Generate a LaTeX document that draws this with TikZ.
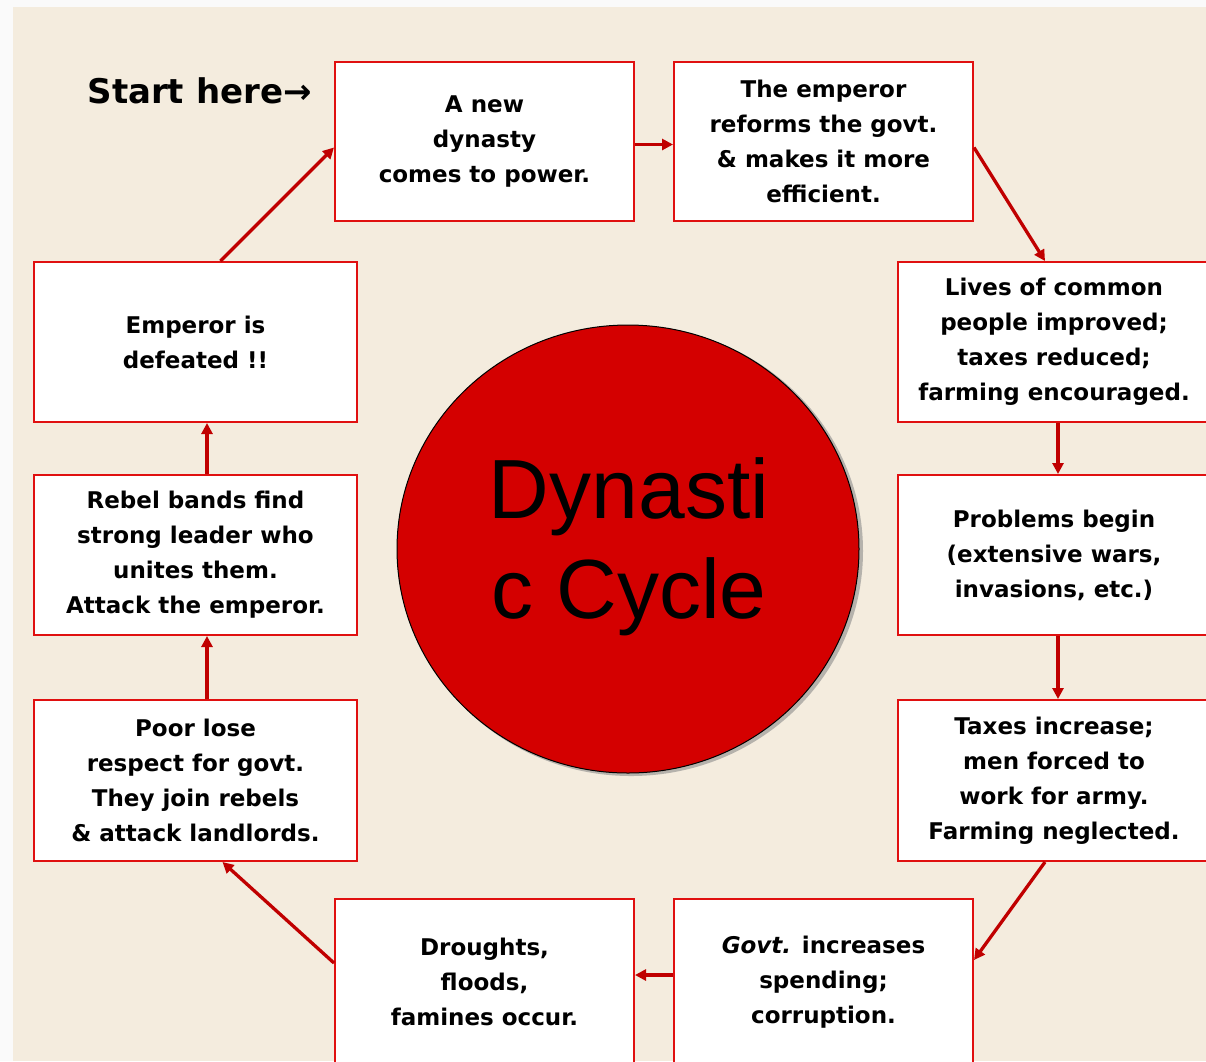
\documentclass[tikz,border=0pt]{standalone}
\usepackage{fontspec}
\setmainfont{DejaVu Sans}
\newfontfamily\arialf{Liberation Sans}
\usetikzlibrary{arrows.meta,shapes.geometric}
\definecolor{bg}{HTML}{F4ECDE}
\definecolor{boxred}{HTML}{E01010}
\definecolor{arrred}{HTML}{C00000}
\definecolor{disc}{HTML}{D40000}
\tikzset{
  stage/.style={draw=boxred, line width=2pt, fill=white, rectangle, align=center,
    inner sep=0pt, font=\fontsize{23}{35}\selectfont\bfseries},
  flow/.style={draw=arrred, line width=3.3pt, -{Triangle[length=11pt,width=11pt]}},
}
\begin{document}
\begin{tikzpicture}[x=1pt,y=-1pt]
\useasboundingbox (0,0) rectangle (1206,1061);
\fill[white!96!gray] (0,0) rectangle (1206,1061);
\fill[bg] (13,7) rectangle (1206,1061);

% centre disc
\fill[black!45, opacity=0.6] (631,551) ellipse [x radius=232, y radius=225];
\node[ellipse, draw=black, line width=1pt, fill=disc, minimum width=462pt, minimum height=448pt, inner sep=0pt] (core) at (628,549) {};
\node[align=center, font=\arialf\fontsize{84}{100}\selectfont, text=black] (title) at (629,547) {Dynasti\\c Cycle};

\node[font=\fontsize{34}{40}\selectfont\bfseries, anchor=west] (start) at (84,91) {Start here→};

\node[stage, minimum width=299pt, minimum height=159pt] (new) at (484.5,141.5) {A new\\dynasty\\comes to power.};
\node[stage, minimum width=299pt, minimum height=159pt] (ref) at (823.5,141.5) {The emperor\\reforms the govt.\\\& makes it more\\efficient.};
\node[stage, minimum width=312pt, minimum height=160pt] (lives) at (1054,342) {Lives of common\\people improved;\\taxes reduced;\\farming encouraged.};
\node[stage, minimum width=312pt, minimum height=160pt] (prob) at (1054,555) {Problems begin\\(extensive wars,\\invasions, etc.)};
\node[stage, minimum width=312pt, minimum height=161pt] (tax) at (1054,780.5) {Taxes increase;\\men forced to\\work for army.\\Farming neglected.};
\node[stage, minimum width=299pt, minimum height=166pt] (govt) at (823.5,982) {\textit{Govt.} increases\\spending;\\corruption.};
\node[stage, minimum width=299pt, minimum height=166pt] (drought) at (484.5,982) {Droughts,\\floods,\\famines occur.};
\node[stage, minimum width=323pt, minimum height=161pt] (poor) at (195.5,780.5) {Poor lose\\respect for govt.\\They join rebels\\\& attack landlords.};
\node[stage, minimum width=323pt, minimum height=160pt] (rebel) at (195.5,555) {Rebel bands find\\strong leader who\\unites them.\\Attack the emperor.};
\node[stage, minimum width=323pt, minimum height=160pt] (defeat) at (195.5,342) {Emperor is\\defeated !!};

\draw[flow] ([xshift=25pt]defeat.north) -- ([yshift=-6pt]new.west);
\draw[flow] ([yshift=-3pt]new.east) -- ([yshift=-3pt]ref.west);
\draw[flow] ([yshift=-6pt]ref.east) -- ([xshift=-9pt]lives.north);
\draw[flow] ([xshift=4pt]lives.south) -- ([xshift=4pt]prob.north);
\draw[flow] ([xshift=4pt]prob.south) -- ([xshift=4pt]tax.north);
\draw[flow] ([xshift=-9pt]tax.south) -- ([yshift=22pt]govt.east);
\draw[flow] ([yshift=7pt]govt.west) -- ([yshift=7pt]drought.west -| drought.east);
\draw[flow] ([yshift=19pt]drought.west) -- ([xshift=27pt]poor.south);
\draw[flow] ([xshift=11.5pt]poor.north) -- ([xshift=11.5pt]rebel.south);
\draw[flow] ([xshift=11.5pt]rebel.north) -- ([xshift=11.5pt]defeat.south);
\end{tikzpicture}
\end{document}
